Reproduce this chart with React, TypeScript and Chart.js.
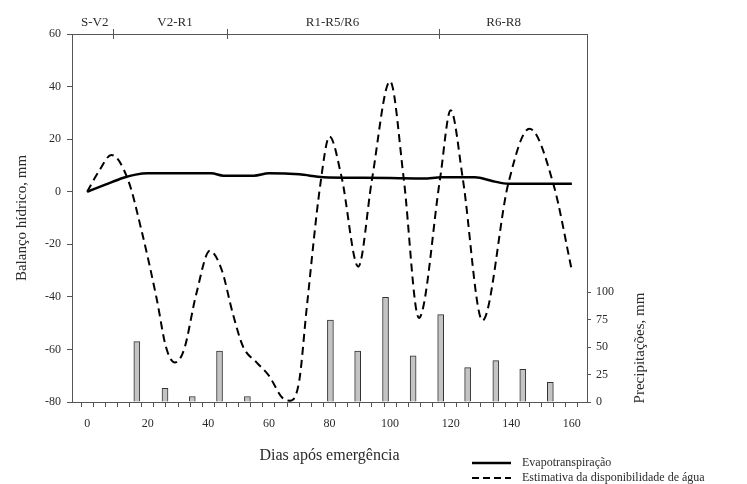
import { useEffect, useRef } from 'react';
import { Chart, registerables } from 'chart.js';

Chart.register(...registerables);

// Evapotranspiração (solid line), mm
const etDays = [0, 6, 12, 16, 20, 30, 41, 45, 55, 60, 70, 78, 90, 100, 111, 117, 128, 134, 139, 150, 160];
const etValues = [0, 2.7, 5.3, 6.5, 7, 7, 7, 6.1, 6.1, 7, 6.6, 5.5, 5.3, 5.2, 5, 5.5, 5.5, 4, 3, 3, 3];

// Estimativa da disponibilidade de água (dashed line), mm
const waterDays = [0, 4, 8, 13.5, 18, 23, 26, 29, 32, 36, 40.5, 44.5, 48, 51.5, 56, 60, 64.5, 67, 70, 72.5, 77, 80, 84, 89.5, 94, 100, 104.5, 109.5, 116.5, 120, 124, 130.5, 139, 146, 154, 160];
const waterValues = [0, 8, 14, 4.5, -15, -41, -59, -65, -60, -39, -22.5, -30, -46, -59, -65, -70, -78.5, -79.5, -72, -44, 3, 21, 5.5, -28.5, 4.5, 42, 5, -48, 5, 31, 5, -49, 3, 24, 2.5, -30];

// Precipitações (bars), mm
const rainDays = [16.4, 25.7, 34.7, 43.7, 52.9, 80.3, 89.3, 98.5, 107.6, 116.7, 125.6, 134.9, 143.8, 152.9];
const rainValues = [55, 12.5, 5, 46.5, 5, 74.7, 46.5, 95.4, 42, 79.6, 31.3, 37.7, 29.8, 18];

// Phenological stages (top bracket)
const stageNames = ['S-V2', 'V2-R1', 'R1-R5/R6', 'R6-R8'];
const stageLabelDays = [2.5, 29, 81, 137.5];
const stageBoundaries = [8.4, 46.2, 116];

// Axis ticks
const xMinorTicks = [-4, 0, 4, 8, 12, 16, 20, 24, 28, 32, 36, 40, 44, 48, 52, 56, 60, 64, 68, 72, 76, 80, 84, 88, 92, 96, 100, 104, 108, 112, 116, 120, 124, 128, 132, 136, 140, 144, 148, 152, 156, 160, 164];
const xLabelTicks = [0, 20, 40, 60, 80, 100, 120, 140, 160];
const leftTicks = [-80, -60, -40, -20, 0, 20, 40, 60];
const rightTicks = [0, 25, 50, 75, 100];

const SERIF = '"Liberation Serif", "DejaVu Serif", serif';
const TEXT = '#2b2b2b';
const AXIS = '#555555';

const zip = (xs: number[], ys: number[]) => xs.map((x, i) => ({ x, y: ys[i] }));

export default function App() {
  const ref = useRef<HTMLCanvasElement | null>(null);

  useEffect(() => {
    document.body.style.margin = '0';
    const canvas = ref.current;
    if (!canvas) return;

    const overlay = {
      id: 'overlay',
      afterDraw(chart: any) {
        const { ctx, chartArea } = chart;
        const xs = chart.scales.x;
        ctx.save();
        // stage boundaries
        ctx.strokeStyle = AXIS;
        ctx.lineWidth = 1;
        stageBoundaries.forEach((d) => {
          const px = Math.round(xs.getPixelForValue(d)) + 0.5;
          ctx.beginPath();
          ctx.moveTo(px, chartArea.top - 5);
          ctx.lineTo(px, chartArea.top + 5);
          ctx.stroke();
        });
        // stage labels
        ctx.fillStyle = TEXT;
        ctx.font = `13px ${SERIF}`;
        ctx.textAlign = 'center';
        ctx.textBaseline = 'middle';
        stageNames.forEach((n, i) => {
          ctx.fillText(n, xs.getPixelForValue(stageLabelDays[i]), chartArea.top - 11);
        });
        // right axis title
        ctx.save();
        ctx.translate(640, 348);
        ctx.rotate(-Math.PI / 2);
        ctx.font = `15px ${SERIF}`;
        ctx.fillText('Precipitações, mm', 0, 0);
        ctx.restore();
        // legend
        const items = [
          { label: chart.data.datasets[0].label, dash: [] as number[], width: 2.5, y: 463 },
          { label: chart.data.datasets[1].label, dash: [7, 4], width: 2, y: 478 },
        ];
        items.forEach((it) => {
          ctx.beginPath();
          ctx.setLineDash(it.dash);
          ctx.strokeStyle = '#000';
          ctx.lineWidth = it.width;
          ctx.moveTo(472, it.y);
          ctx.lineTo(511, it.y);
          ctx.stroke();
          ctx.setLineDash([]);
          ctx.fillStyle = TEXT;
          ctx.font = `12px ${SERIF}`;
          ctx.textAlign = 'left';
          ctx.textBaseline = 'middle';
          ctx.fillText(it.label, 522, it.y);
        });
        ctx.restore();
      },
    };

    const chart = new Chart(canvas, {
      type: 'line',
      data: {
        datasets: [
          {
            type: 'line',
            label: 'Evapotranspiração',
            data: zip(etDays, etValues),
            xAxisID: 'x',
            yAxisID: 'y',
            borderColor: '#000',
            borderWidth: 2.5,
            pointRadius: 0,
            cubicInterpolationMode: 'monotone',
            order: 1,
          },
          {
            type: 'line',
            label: 'Estimativa da disponibilidade de água',
            data: zip(waterDays, waterValues),
            xAxisID: 'x',
            yAxisID: 'y',
            borderColor: '#000',
            borderWidth: 2,
            borderDash: [8, 5],
            pointRadius: 0,
            cubicInterpolationMode: 'monotone',
            order: 2,
          },
          {
            type: 'bar',
            label: 'Precipitações',
            data: zip(rainDays, rainValues),
            xAxisID: 'x',
            yAxisID: 'y1',
            backgroundColor: '#c4c4c4',
            borderColor: '#333',
            borderWidth: 1,
            barThickness: 6,
            order: 3,
          } as any,
        ],
      },
      options: {
        animation: false,
        responsive: false,
        devicePixelRatio: 1,
        layout: { padding: 0 },
        plugins: { legend: { display: false }, tooltip: { enabled: false } },
        scales: {
          x: {
            type: 'linear',
            position: 'bottom',
            min: -5,
            max: 165,
            offset: false,
            afterBuildTicks: (s: any) => {
              s.ticks = xMinorTicks.map((v) => ({ value: v }));
            },
            afterFit: (s: any) => {
              s.height = 82;
            },
            ticks: {
              autoSkip: false,
              maxRotation: 0,
              padding: 10,
              color: TEXT,
              font: { family: SERIF, size: 12 },
              callback: (v: any) => (xLabelTicks.includes(Number(v)) ? String(v) : ''),
            },
            grid: { display: true, drawOnChartArea: false, drawTicks: true, tickLength: 5, color: AXIS, lineWidth: 1 },
            border: { display: true, color: AXIS, width: 1 },
            title: {
              display: true,
              text: 'Dias após emergência',
              color: TEXT,
              font: { family: SERIF, size: 16 },
              padding: { top: 0, bottom: 19 },
            },
          },
          x2: {
            type: 'linear',
            position: 'top',
            min: -5,
            max: 165,
            afterFit: (s: any) => {
              s.height = 34;
            },
            ticks: { display: false },
            grid: { display: false },
            border: { display: true, color: AXIS, width: 1 },
          },
          y: {
            type: 'linear',
            position: 'left',
            min: -80,
            max: 60,
            afterBuildTicks: (s: any) => {
              s.ticks = leftTicks.map((v) => ({ value: v }));
            },
            afterFit: (s: any) => {
              s.width = 72;
            },
            ticks: { padding: 6, color: TEXT, font: { family: SERIF, size: 12 } },
            grid: { display: true, drawOnChartArea: false, drawTicks: true, tickLength: 5, color: AXIS },
            border: { display: true, color: AXIS, width: 1 },
            title: {
              display: true,
              text: 'Balanço hídrico, mm',
              color: TEXT,
              font: { family: SERIF, size: 15 },
              padding: { top: 13, bottom: 0 },
            },
          },
          y1: {
            type: 'linear',
            position: 'right',
            min: 0,
            max: 335.5,
            afterBuildTicks: (s: any) => {
              s.ticks = rightTicks.map((v) => ({ value: v }));
            },
            afterFit: (s: any) => {
              s.width = 160;
            },
            ticks: { padding: 5, color: TEXT, font: { family: SERIF, size: 12 } },
            grid: { display: true, drawOnChartArea: false, drawTicks: true, tickLength: 4, color: AXIS },
            border: { display: true, color: AXIS, width: 1 },
          },
        },
      } as any,
      plugins: [overlay],
    });

    return () => chart.destroy();
  }, []);

  return <canvas ref={ref} width={747} height={484} style={{ display: 'block', width: 747, height: 484 }} />;
}
